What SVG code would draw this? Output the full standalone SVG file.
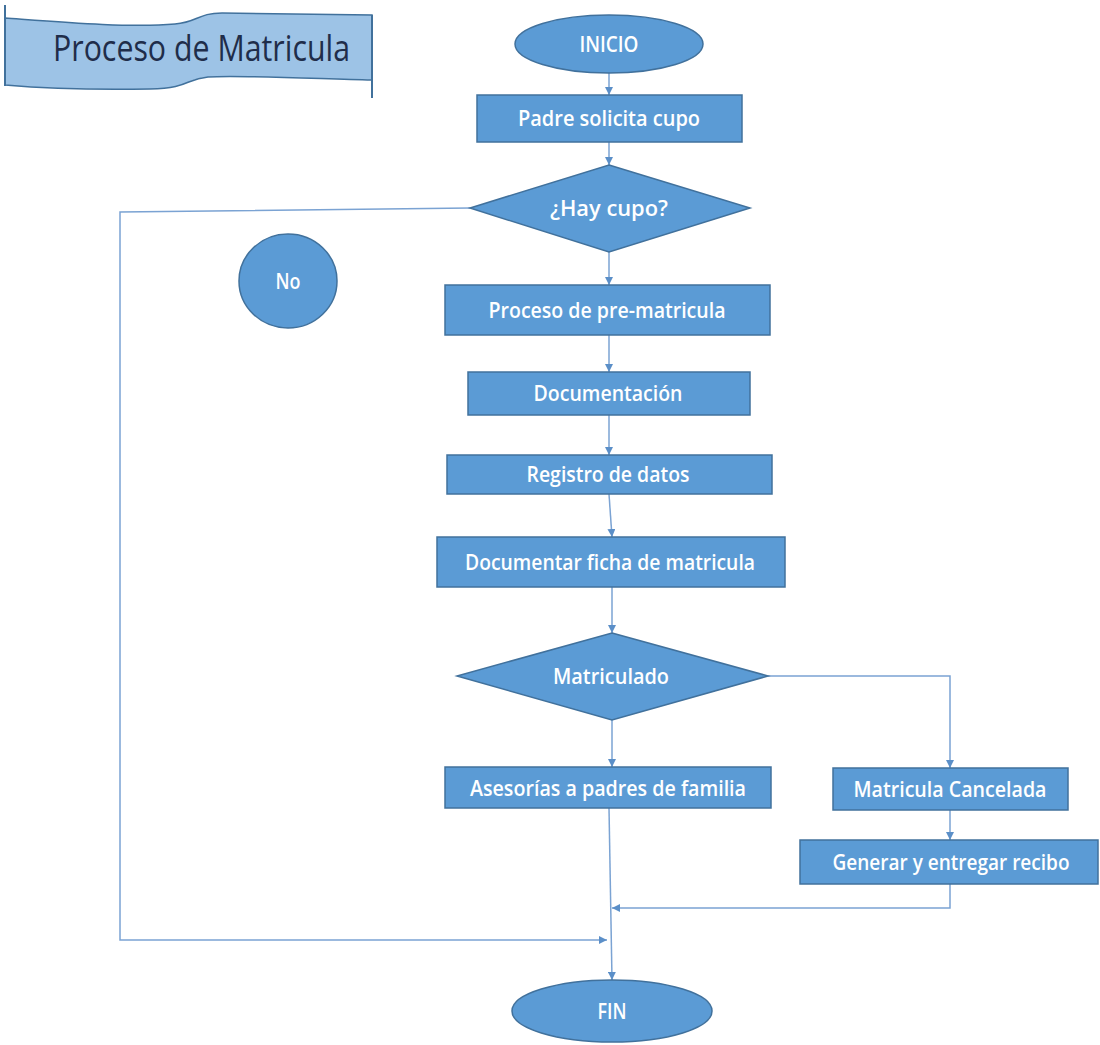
<svg xmlns="http://www.w3.org/2000/svg" width="1100" height="1045" viewBox="0 0 1100 1045">
<defs>
<style>
.box{fill:#5B9BD5;stroke:#41719C;stroke-width:1.5}
.t{font-family:"Open Sans","Liberation Sans",sans-serif;font-size:21px;font-weight:600;fill:#FFFFFF;text-anchor:middle}
.c{fill:none;stroke:#7BA3D3;stroke-width:1.5}
.title{font-family:"Open Sans","Liberation Sans",sans-serif;font-size:36px;fill:#1F2D4A}
</style>
<marker id="ah" viewBox="0 0 10 10" refX="10" refY="5" markerWidth="8" markerHeight="8" markerUnits="userSpaceOnUse" orient="auto">
<path d="M0,0 L10,5 L0,10 Z" fill="#5B8FC8"/>
</marker>
</defs>
<rect width="1100" height="1045" fill="#FFFFFF"/>

<g id="titulo">
<path d="M5,18 C60,22 130,28 175,24 C198,22 198,13 222,13 L372,15 L372,80 C300,78 235,75 208,77 C185,79 190,88 150,89 C100,90 40,88 5,85 Z" fill="#9DC3E6" stroke="#41719C" stroke-width="1.5"/>
<line x1="5" y1="5" x2="5" y2="86" stroke="#41719C" stroke-width="2"/>
<line x1="372" y1="15" x2="372" y2="98" stroke="#41719C" stroke-width="2"/>
<text class="title" x="53" y="61" textLength="297" lengthAdjust="spacingAndGlyphs">Proceso de Matricula</text>
</g>

<g id="connectors">
<line class="c" x1="609" y1="73" x2="609" y2="95" marker-end="url(#ah)"/>
<line class="c" x1="609" y1="142" x2="609" y2="165" marker-end="url(#ah)"/>
<polyline class="c" points="470,208 120,212 120,940 607,940" marker-end="url(#ah)"/>
<line class="c" x1="609" y1="252" x2="609" y2="285" marker-end="url(#ah)"/>
<line class="c" x1="609" y1="335" x2="609" y2="372" marker-end="url(#ah)"/>
<line class="c" x1="609" y1="415" x2="609" y2="455" marker-end="url(#ah)"/>
<line class="c" x1="609" y1="494" x2="612" y2="537" marker-end="url(#ah)"/>
<line class="c" x1="612" y1="587" x2="612" y2="633" marker-end="url(#ah)"/>
<line class="c" x1="612" y1="720" x2="612" y2="767" marker-end="url(#ah)"/>
<polyline class="c" points="768,676 950,676 950,768" marker-end="url(#ah)"/>
<line class="c" x1="950" y1="810" x2="950" y2="840" marker-end="url(#ah)"/>
<polyline class="c" points="950,884 950,908 612,908" marker-end="url(#ah)"/>
<line class="c" x1="609" y1="808" x2="612" y2="980" marker-end="url(#ah)"/>
</g>

<g id="inicio">
<ellipse class="box" cx="609" cy="44" rx="94" ry="29"/>
<text class="t" x="609" y="52" textLength="59" lengthAdjust="spacingAndGlyphs">INICIO</text>
</g>
<g id="padre">
<rect class="box" x="477" y="95" width="265" height="47"/>
<text class="t" x="609" y="126" textLength="182" lengthAdjust="spacingAndGlyphs">Padre solicita cupo</text>
</g>
<g id="hay-cupo">
<polygon class="box" points="609,165 750,208 609,252 470,208"/>
<text class="t" x="609" y="216" textLength="118" lengthAdjust="spacingAndGlyphs">¿Hay cupo?</text>
</g>
<g id="no">
<ellipse class="box" cx="288" cy="281" rx="49" ry="47"/>
<text class="t" x="288" y="289" textLength="25" lengthAdjust="spacingAndGlyphs">No</text>
</g>
<g id="pre-matricula">
<rect class="box" x="445" y="285" width="325" height="50"/>
<text class="t" x="607" y="318" textLength="237" lengthAdjust="spacingAndGlyphs">Proceso de pre-matricula</text>
</g>
<g id="documentacion">
<rect class="box" x="468" y="372" width="282" height="43"/>
<text class="t" x="608" y="401" textLength="149" lengthAdjust="spacingAndGlyphs">Documentación</text>
</g>
<g id="registro">
<rect class="box" x="447" y="455" width="325" height="39"/>
<text class="t" x="608" y="482" textLength="163" lengthAdjust="spacingAndGlyphs">Registro de datos</text>
</g>
<g id="ficha">
<rect class="box" x="437" y="537" width="348" height="50"/>
<text class="t" x="610" y="570" textLength="290" lengthAdjust="spacingAndGlyphs">Documentar ficha de matricula</text>
</g>
<g id="matriculado">
<polygon class="box" points="612,633 768,676 612,720 457,676"/>
<text class="t" x="611" y="684" textLength="116" lengthAdjust="spacingAndGlyphs">Matriculado</text>
</g>
<g id="asesorias">
<rect class="box" x="445" y="767" width="326" height="41"/>
<text class="t" x="608" y="796" textLength="276" lengthAdjust="spacingAndGlyphs">Asesorías a padres de familia</text>
</g>
<g id="cancelada">
<rect class="box" x="833" y="768" width="235" height="42"/>
<text class="t" x="950" y="797" textLength="193" lengthAdjust="spacingAndGlyphs">Matricula Cancelada</text>
</g>
<g id="recibo">
<rect class="box" x="800" y="840" width="298" height="44"/>
<text class="t" x="951" y="870" textLength="237" lengthAdjust="spacingAndGlyphs">Generar y entregar recibo</text>
</g>
<g id="fin">
<ellipse class="box" cx="612" cy="1011" rx="100" ry="31"/>
<text class="t" x="612" y="1019" textLength="29" lengthAdjust="spacingAndGlyphs">FIN</text>
</g>
</svg>
